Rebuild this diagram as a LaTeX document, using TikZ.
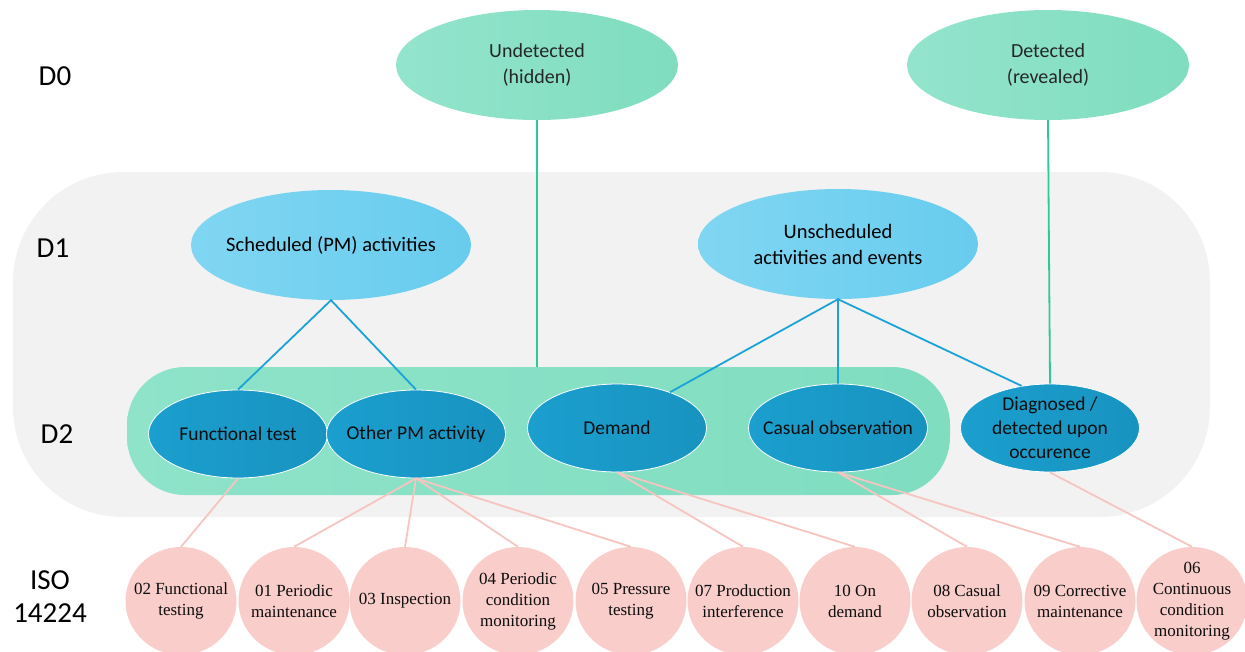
\documentclass[tikz,border=0pt]{standalone}
\usepackage{fontspec}
\setmainfont{Carlito}
\newfontfamily\isofont{Liberation Serif}
\usetikzlibrary{shapes.geometric}
\definecolor{bggray}{HTML}{F2F2F2}
\definecolor{bandgreen}{HTML}{8EE3C9}
\definecolor{bandgreenR}{HTML}{80DDC0}
\definecolor{dzero}{HTML}{93E4CC}
\definecolor{dzeroR}{HTML}{7FDDBE}
\definecolor{done}{HTML}{80D6F2}
\definecolor{doneR}{HTML}{68CCEE}
\definecolor{dtwo}{HTML}{1B9FCE}
\definecolor{dtwoR}{HTML}{1893C0}
\definecolor{isopink}{HTML}{F8CDCA}
\definecolor{pinkline}{HTML}{F6C5C0}
\definecolor{blueline}{HTML}{1BA3D8}
\definecolor{greenline}{HTML}{2FC994}
\begin{document}
\begin{tikzpicture}[x=1pt,y=-1pt,
  rowlabel/.style={font=\fontsize{29}{33}\selectfont, align=center, text=black},
  dzeronode/.style={ellipse, left color=dzero, right color=dzeroR, minimum width=282pt, minimum height=110pt, inner sep=0pt},
  dzerotext/.style={align=center, font=\fontsize{20}{26}\selectfont, text=black!85, inner sep=0pt},
  donenode/.style={ellipse, left color=done, right color=doneR, minimum width=280pt, minimum height=110pt, inner sep=0pt},
  donetext/.style={align=center, font=\fontsize{20.5}{26}\selectfont, text=black, inner sep=0pt},
  dtwonode/.style={ellipse, left color=dtwo, right color=dtwoR, draw=white, line width=0.8pt, minimum width=179pt, minimum height=88pt, inner sep=0pt},
  dtwotext/.style={align=center, font=\fontsize{19.5}{24}\selectfont, text=black!95, inner sep=0pt},
  isonode/.style={ellipse, fill=isopink, minimum width=111pt, minimum height=108pt, inner sep=0pt},
  isotext/.style={align=center, font=\isofont\fontsize{17}{21}\selectfont, text=black!95, inner sep=0pt},
  blue conn/.style={draw=blueline, line width=1.8pt},
  green conn/.style={draw=greenline, line width=1.8pt},
  pink conn/.style={draw=pinkline, line width=1.8pt}
]
\useasboundingbox (0,0) rectangle (1245,651);
\fill[bggray, rounded corners=110pt] (13,172) rectangle (1210,517);
\node[left color=bandgreen, right color=bandgreenR, rounded corners=58pt, minimum width=823pt, minimum height=128pt, inner sep=0pt] (band) at (538.5,431) {};

% row labels
\node[rowlabel] (L0) at (55,76) {D0};
\node[rowlabel] (L1) at (53,248) {D1};
\node[rowlabel] (L2) at (57,434) {D2};
\node[rowlabel] (L3) at (50,597) {ISO\\14224};

% D0
\node[dzeronode, label={[dzerotext]center:{Undetected\\(hidden)}}] (undet) at (537,65) {};
\node[dzeronode, label={[dzerotext]center:{Detected\\(revealed)}}] (det) at (1048,65) {};

% D1
\node[donenode, label={[donetext]center:{Scheduled (PM) activities}}] (sched) at (331,245) {};
\node[donenode, label={[donetext]center:{Unscheduled\\activities and events}}] (unsched) at (838,244) {};

% D2
\node[dtwonode, label={[dtwotext]center:{Functional test}}] (ft) at (238,434) {};
\node[dtwonode, label={[dtwotext]center:{Other PM activity}}] (opm) at (416,434) {};
\node[dtwonode, label={[dtwotext]center:{Demand}}] (dem) at (617,428) {};
\node[dtwonode, label={[dtwotext]center:{Casual observation}}] (cas) at (838,428) {};
\node[dtwonode, label={[dtwotext]center:{Diagnosed /\\detected upon\\occurence}}] (diag) at (1050,428) {};

% ISO 14224
\node[isonode, label={[isotext]center:{02 Functional\\testing}}] (i02) at (181,601) {};
\node[isonode, label={[isotext]center:{01 Periodic\\maintenance}}] (i01) at (294,601) {};
\node[isonode, label={[isotext]center:{03 Inspection}}] (i03) at (405,601) {};
\node[isonode, label={[isotext]center:{04 Periodic\\condition\\monitoring}}] (i04) at (518,601) {};
\node[isonode, label={[isotext]center:{05 Pressure\\testing}}] (i05) at (631,601) {};
\node[isonode, label={[isotext]center:{07 Production\\interference}}] (i07) at (743,601) {};
\node[isonode, label={[isotext]center:{10 On\\demand}}] (i10) at (855,601) {};
\node[isonode, label={[isotext]center:{08 Casual\\observation}}] (i08) at (967,601) {};
\node[isonode, label={[isotext]center:{09 Corrective\\maintenance}}] (i09) at (1080,601) {};
\node[isonode, label={[isotext]center:{06\\Continuous\\condition\\monitoring}}] (i06) at (1192,601) {};

% green connectors
\draw[green conn] (undet.south) -- (undet.south |- band.north);
\draw[green conn] (det.south) -- (diag.north);

% blue connectors
\draw[blue conn] (ft.north) -- (sched.south) -- (opm.north);
\draw[blue conn] (dem.34) -- (unsched.south) -- (cas.north);
\draw[blue conn] (unsched.south) -- (diag.124);

% pink connectors
\draw[pink conn] (ft.south) -- (i02.north);
\draw[pink conn] (opm.south) -- (i01.north);
\draw[pink conn] (opm.south) -- (i03.north);
\draw[pink conn] (opm.south) -- (i04.north);
\draw[pink conn] (opm.south) -- (i05.north);
\draw[pink conn] (dem.south) -- (i07.north);
\draw[pink conn] (dem.south) -- (i10.north);
\draw[pink conn] (cas.south) -- (i08.north);
\draw[pink conn] (cas.south) -- (i09.north);
\draw[pink conn] (diag.south) -- (i06.north);
\end{tikzpicture}
\end{document}
